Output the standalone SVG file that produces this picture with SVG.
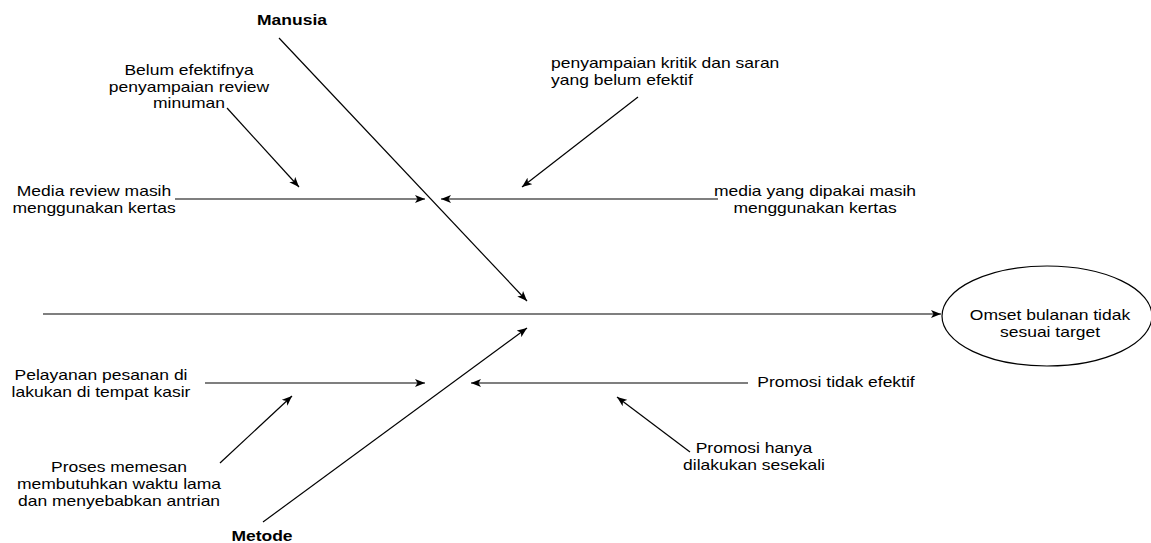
<svg xmlns="http://www.w3.org/2000/svg" width="1151" height="543" viewBox="0 0 1151 543">
<style>
.t{font-family:"Liberation Sans",Arial,sans-serif;font-size:14px;fill:#000;text-anchor:middle}
.s{text-anchor:start}
.b{font-weight:bold}
.c{stroke:#000;stroke-width:1.2;fill:none;marker-end:url(#ah)}
</style>
<defs>
<marker id="ah" viewBox="0 0 10 8" refX="10" refY="4" markerWidth="10" markerHeight="8" markerUnits="userSpaceOnUse" orient="auto">
<path d="M0,0 L10,4 L0,8 L2.5,4 Z" fill="#000"/>
</marker>
</defs>
<rect width="1151" height="543" fill="#fff"/>
<g id="connectors">
<line class="c" x1="43" y1="314" x2="941" y2="314"/>
<line class="c" x1="279" y1="38" x2="527" y2="301"/>
<line class="c" x1="263" y1="522" x2="527" y2="328"/>
<line class="c" x1="175" y1="199" x2="425" y2="199"/>
<line class="c" x1="718" y1="199" x2="441" y2="199"/>
<line class="c" x1="227" y1="108" x2="299" y2="187"/>
<line class="c" x1="638" y1="97" x2="522" y2="187"/>
<line class="c" x1="205" y1="383" x2="425" y2="383"/>
<line class="c" x1="220" y1="463" x2="292" y2="396"/>
<line class="c" x1="748" y1="383" x2="471" y2="383"/>
<line class="c" x1="690" y1="452" x2="617" y2="397"/>
</g>
<g id="effect">
<ellipse cx="1047" cy="316" rx="105" ry="50" fill="#fff" stroke="#000" stroke-width="1.2"/>
<text class="t" transform="translate(1050,0) scale(1.25,1)"><tspan x="0" y="320">Omset bulanan tidak</tspan><tspan x="0" y="337">sesuai target</tspan></text>
</g>
<g id="manusia">
<text class="t b" transform="translate(292,0) scale(1.25,1)" x="0" y="25">Manusia</text>
</g>
<g id="metode">
<text class="t b" transform="translate(262,0) scale(1.25,1)" x="0" y="541">Metode</text>
</g>
<g id="cause-belum-efektif">
<text class="t" transform="translate(189,0) scale(1.25,1)"><tspan x="0" y="75">Belum efektifnya</tspan><tspan x="0" y="92">penyampaian review</tspan><tspan x="0" y="108">minuman</tspan></text>
</g>
<g id="cause-media-review">
<text class="t" transform="translate(94,0) scale(1.25,1)"><tspan x="0" y="196">Media review masih</tspan><tspan x="0" y="213">menggunakan kertas</tspan></text>
</g>
<g id="cause-kritik-saran">
<text class="t s" transform="translate(551,0) scale(1.25,1)"><tspan x="0" y="68">penyampaian kritik dan saran</tspan><tspan x="0" y="85">yang belum efektif</tspan></text>
</g>
<g id="cause-media-dipakai">
<text class="t" transform="translate(815,0) scale(1.25,1)"><tspan x="0" y="196">media yang dipakai masih</tspan><tspan x="0" y="213">menggunakan kertas</tspan></text>
</g>
<g id="cause-pelayanan">
<text class="t" transform="translate(101,0) scale(1.25,1)"><tspan x="0" y="380">Pelayanan pesanan di</tspan><tspan x="0" y="397">lakukan di tempat kasir</tspan></text>
</g>
<g id="cause-proses">
<text class="t" transform="translate(119,0) scale(1.25,1)"><tspan x="0" y="472">Proses memesan</tspan><tspan x="0" y="489">membutuhkan waktu lama</tspan><tspan x="0" y="506">dan menyebabkan antrian</tspan></text>
</g>
<g id="cause-promosi">
<text class="t" transform="translate(836,0) scale(1.25,1)" x="0" y="387">Promosi tidak efektif</text>
</g>
<g id="cause-promosi-sesekali">
<text class="t" transform="translate(754,0) scale(1.25,1)"><tspan x="0" y="453">Promosi hanya</tspan><tspan x="0" y="470">dilakukan sesekali</tspan></text>
</g>
</svg>
